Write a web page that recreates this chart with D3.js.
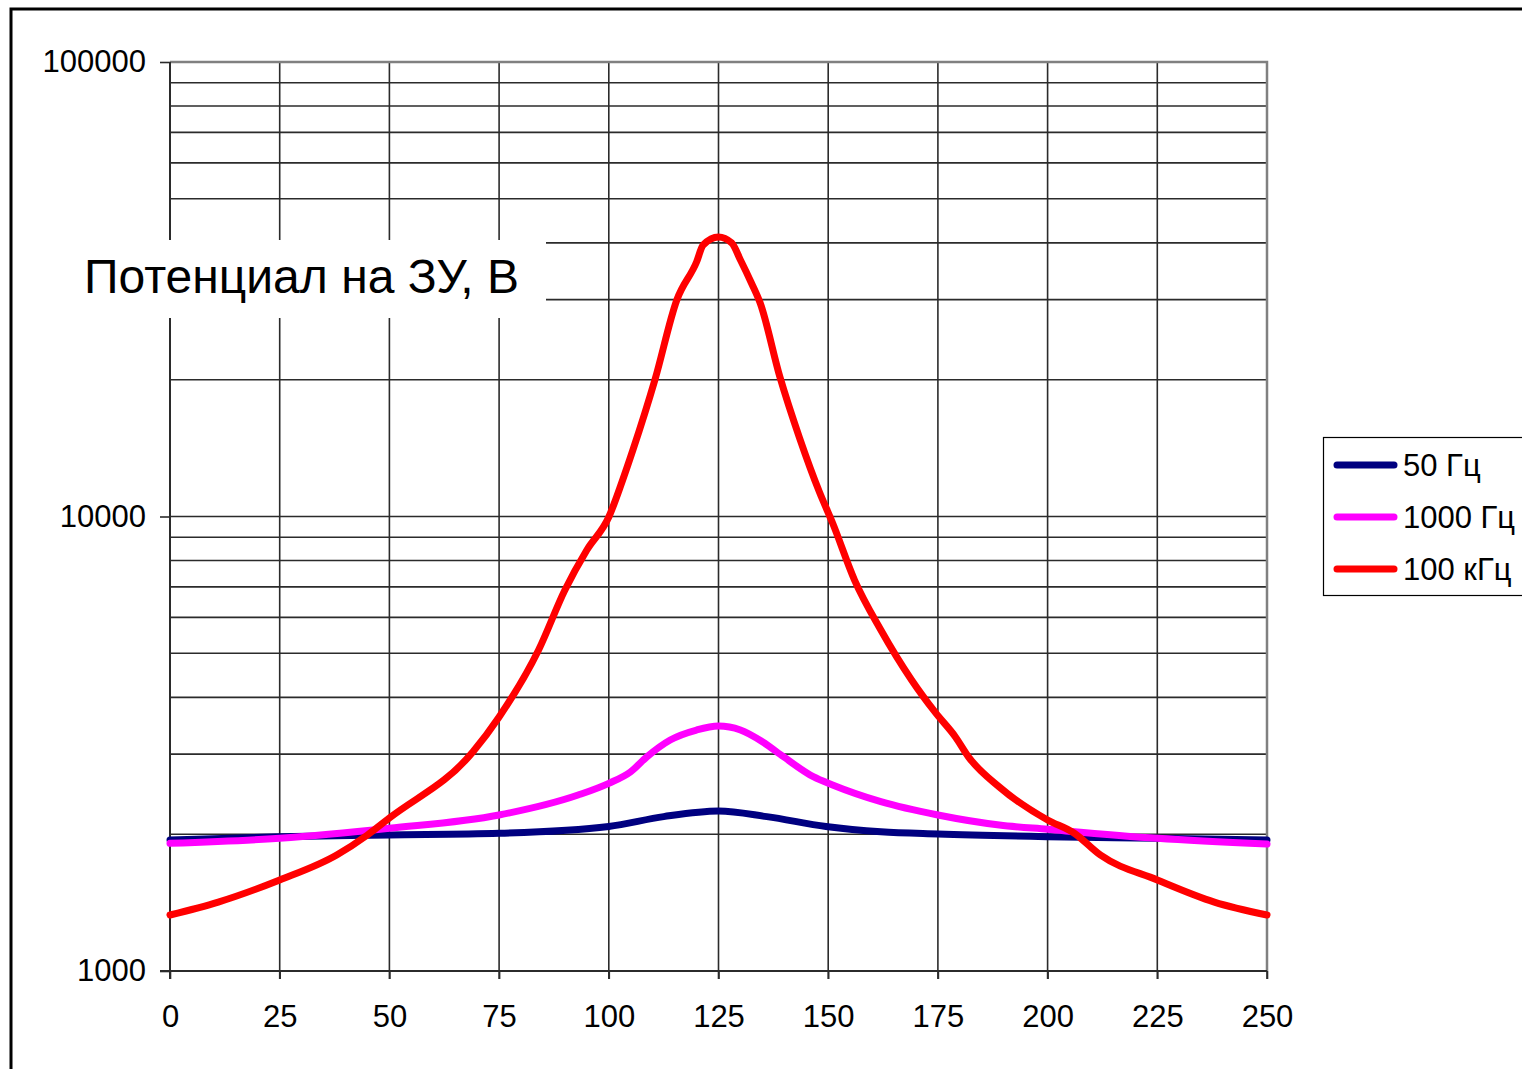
<!DOCTYPE html>
<meta charset="utf-8">
<style>
body { margin: 0; background: #fff; }
svg { display: block; font-family: "Liberation Sans", Arial, sans-serif; }
.grid line { stroke: #2b2b2b; stroke-width: 1.6px; }
.axis path { display: none; }
.axis line { stroke: #2b2b2b; stroke-width: 1.6px; }
.axis text { font-size: 31px; fill: #000; }
.line { fill: none; stroke-width: 7px; stroke-linejoin: round; stroke-linecap: round; }
.legend text { font-size: 31px; fill: #000; }
</style>
<svg width="1522" height="1069"></svg>
<script src="https://d3js.org/d3.v7.min.js"></script>
<script>
// distance values (x) and potential, V (y)
var xTicks = [0, 25, 50, 75, 100, 125, 150, 175, 200, 225, 250];
var yMajor = [1000, 10000, 100000];

var x50 = [0, 25, 50, 75, 100, 112.5, 125, 136, 149.5, 162, 175, 200, 225, 250];
var v50 = [1942, 1975, 1992, 2009, 2080, 2186, 2249, 2186, 2080, 2025, 2002, 1975, 1959, 1942];

var x1000 = [0, 25, 50, 75, 93, 100, 105, 108.7, 114, 120, 125, 130, 135, 139.8, 146.6, 151, 162, 175, 189, 200, 225, 250];
var v1000 = [1910, 1959, 2061, 2204, 2439, 2588, 2745, 2961, 3223, 3390, 3459, 3390, 3195, 2961, 2676, 2566, 2358, 2204, 2095, 2050, 1959, 1903];

var x100k = [0, 11, 25, 38, 45, 50, 69, 75, 84, 90, 95, 100, 103, 105.5, 110.5, 115.5, 120, 121.5, 125, 128, 130, 132.5, 134.5, 139, 143.5, 148, 151, 156, 162, 169, 174.5, 179, 182, 189, 200, 206, 212, 225, 238, 250];
var v100k = [1328, 1418, 1586, 1800, 1992, 2171, 3032, 3622, 5085, 6891, 8440, 9975, 11909, 14008, 19966, 29950, 36308, 39573, 41210, 39980, 36680, 32650, 29490, 20270, 14860, 11320, 9676, 7248, 5628, 4369, 3696, 3273, 2956, 2540, 2149, 2012, 1800, 1586, 1418, 1328];

var seriesNames = ["50 Гц", "1000 Гц", "100 кГц"];
var seriesColors = ["#000080", "#ff00ff", "#ff0000"];
var title = "Потенциал на ЗУ, В";

var svg = d3.select("svg");

// outer frame
svg.append("rect")
    .attr("x", 11).attr("y", 9)
    .attr("width", 1600).attr("height", 1200)
    .attr("fill", "none").attr("stroke", "#000").attr("stroke-width", 3);

var x = d3.scaleLinear().domain([0, 250]).range([170, 1267]);
var y = d3.scaleLog().domain([1000, 100000]).range([971, 62]);

// grid
var grid = svg.append("g").attr("class", "grid");
grid.selectAll(".h").data(y.ticks()).enter().append("line")
    .attr("x1", 170).attr("x2", 1267)
    .attr("y1", function(d) { return y(d); })
    .attr("y2", function(d) { return y(d); });
grid.selectAll(".v").data(xTicks).enter().append("line")
    .attr("x1", function(d) { return x(d); })
    .attr("x2", function(d) { return x(d); })
    .attr("y1", 62).attr("y2", 979);

// plot border (top and right in grey)
svg.append("path")
    .attr("d", "M170," + y(100000) + "H" + x(250) + "V" + y(1000))
    .attr("fill", "none").attr("stroke", "#808080").attr("stroke-width", 2.5);

// axes
svg.append("g")
    .attr("class", "axis")
    .attr("transform", "translate(170,0)")
    .call(d3.axisLeft(y).tickValues(yMajor).tickFormat(d3.format("d")).tickSize(10).tickPadding(14));
svg.append("g")
    .attr("class", "axis")
    .attr("transform", "translate(0,971)")
    .call(d3.axisBottom(x).tickValues(xTicks).tickSize(8).tickPadding(26));
svg.append("line")
    .attr("x1", 160).attr("x2", 1267).attr("y1", 971).attr("y2", 971)
    .attr("stroke", "#2b2b2b").attr("stroke-width", 2);
svg.append("line")
    .attr("x1", 170).attr("x2", 170).attr("y1", 62).attr("y2", 979)
    .attr("stroke", "#2b2b2b").attr("stroke-width", 2);

// title with white box
svg.append("rect")
    .attr("x", 62).attr("y", 240).attr("width", 484).attr("height", 78)
    .attr("fill", "#fff");
svg.append("text")
    .attr("x", 84).attr("y", 293)
    .attr("font-size", 48)
    .text(title);

// lines
var line = d3.line()
    .curve(d3.curveMonotoneX)
    .x(function(d) { return x(d[0]); })
    .y(function(d) { return y(d[1]); });

var series = [d3.zip(x50, v50), d3.zip(x1000, v1000), d3.zip(x100k, v100k)];
svg.selectAll(".line").data(series).enter().append("path")
    .attr("class", "line")
    .attr("stroke", function(d, i) { return seriesColors[i]; })
    .attr("d", line);

// legend
var legend = svg.append("g").attr("class", "legend");
legend.append("rect")
    .attr("x", 1323.5).attr("y", 437.5).attr("width", 220).attr("height", 158)
    .attr("fill", "#fff").attr("stroke", "#000").attr("stroke-width", 1.2);
var item = legend.selectAll(".item").data(seriesNames).enter().append("g")
    .attr("transform", function(d, i) { return "translate(0," + (465 + i * 52) + ")"; });
item.append("line")
    .attr("x1", 1337).attr("x2", 1394)
    .attr("stroke", function(d, i) { return seriesColors[i]; })
    .attr("stroke-width", 7).attr("stroke-linecap", "round");
item.append("text")
    .attr("x", 1403).attr("y", 11)
    .text(function(d) { return d; });
</script>
